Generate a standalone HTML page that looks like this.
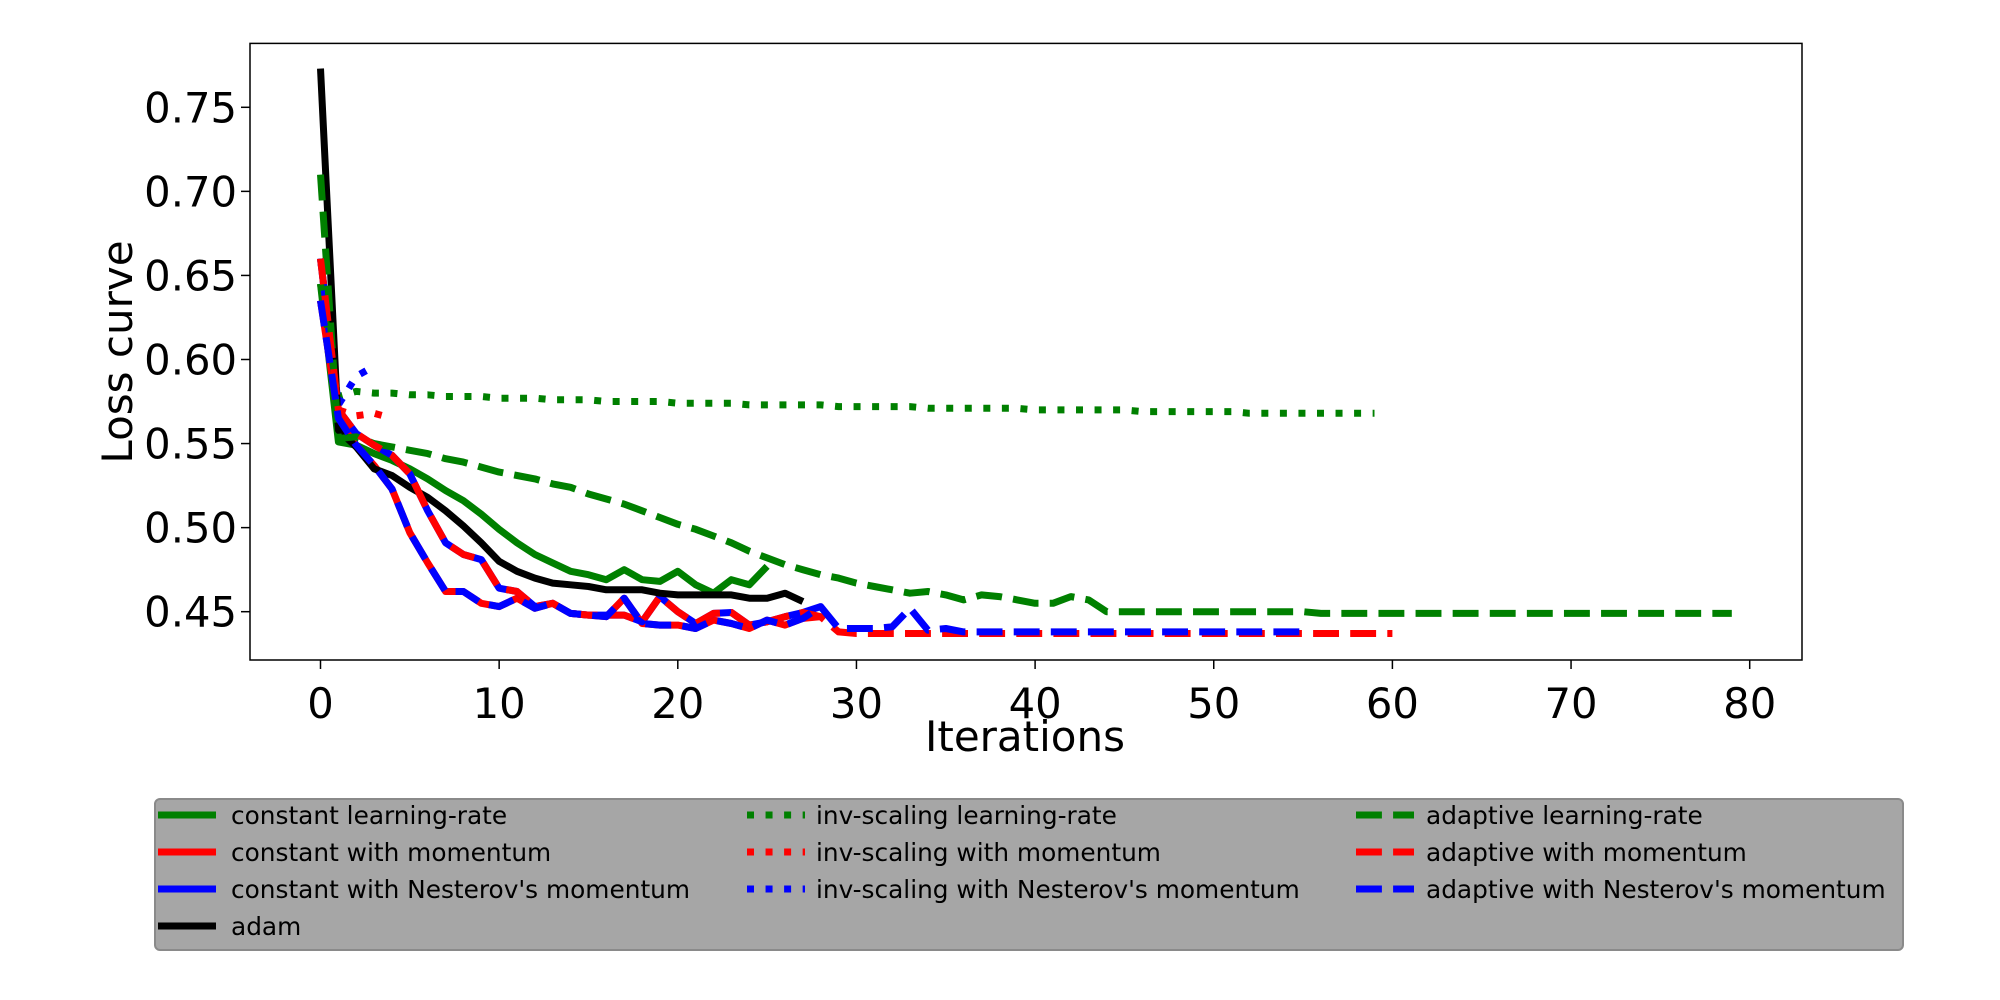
<!DOCTYPE html>
<html><head><meta charset="utf-8">
<style>
html,body{margin:0;padding:0;background:#fff;}
svg{display:block;font-family:"DejaVu Sans","Liberation Sans",sans-serif;}
</style></head>
<body>
<svg id="chart" width="2000" height="1000" viewBox="0 0 2000 1000" xmlns="http://www.w3.org/2000/svg">
<rect x="0" y="0" width="2000" height="1000" fill="#fff"/>
<g id="plot"></g>
<rect x="250" y="43.4" width="1552" height="616.6" fill="none" stroke="#000" stroke-width="1.5"/>
<g id="xticks"></g>
<g id="yticks"></g>
<text x="1025" y="751" font-size="42" text-anchor="middle">Iterations</text>
<text x="0" y="0" font-size="42" text-anchor="middle" transform="translate(132,352) rotate(-90)">Loss curve</text>
<rect x="155" y="799" width="1748" height="151" rx="5" fill="#a6a6a6" stroke="#8a8a8a" stroke-width="2"/>
<g id="legend"></g>
</svg>
<script>
const xTicks = [0,10,20,30,40,50,60,70,80];
const yTicks = [0.45,0.50,0.55,0.60,0.65,0.70,0.75];
const yTickLabels = ["0.45","0.50","0.55","0.60","0.65","0.70","0.75"];

const constantLR = [0.645,0.551,0.549,0.544,0.540,0.535,0.529,0.522,0.516,0.508,0.499,0.491,0.484,0.479,0.474,0.472,0.469,0.475,0.469,0.468,0.474,0.466,0.461,0.469,0.466,0.477];
const constantMom = [0.635,0.565,0.549,0.537,0.523,0.497,0.479,0.462,0.462,0.455,0.453,0.458,0.452,0.455,0.449,0.448,0.447,0.458,0.443,0.442,0.442,0.440,0.445,0.443,0.440,0.445,0.442,0.446,0.447];
const constantNest = [0.660,0.570,0.556,0.549,0.543,0.532,0.510,0.491,0.484,0.481,0.464,0.462,0.453,0.455,0.449,0.448,0.448,0.448,0.444,0.459,0.450,0.443,0.449,0.4495,0.442,0.444,0.447,0.4495,0.453];
const adam = [0.773,0.558,0.548,0.535,0.531,0.524,0.518,0.510,0.501,0.491,0.480,0.474,0.470,0.467,0.466,0.465,0.463,0.463,0.463,0.461,0.460,0.460,0.460,0.460,0.458,0.458,0.461,0.456];
const invLR = [0.645,0.578,0.581,0.580,0.580,0.579,0.579,0.578,0.578,0.578,0.577,0.577,0.577,0.576,0.576,0.576,0.575,0.575,0.575,0.575,0.574,0.574,0.574,0.574,0.573,0.573,0.573,0.573,0.573,0.572,0.572,0.572,0.572,0.572,0.571,0.571,0.571,0.571,0.571,0.571,0.570,0.570,0.570,0.570,0.570,0.570,0.569,0.569,0.569,0.569,0.569,0.569,0.568,0.568,0.568,0.568,0.568,0.568,0.568,0.568];
const invMom = [0.635,0.570,0.5665,0.568,0.565];
const invNest = [0.660,0.573,0.590,0.596];
const adaptLR = [0.710,0.553,0.554,0.550,0.548,0.546,0.544,0.541,0.539,0.536,0.533,0.531,0.529,0.526,0.524,0.520,0.517,0.514,0.510,0.506,0.502,0.499,0.495,0.491,0.486,0.482,0.478,0.475,0.472,0.470,0.467,0.465,0.463,0.461,0.462,0.460,0.457,0.460,0.459,0.457,0.455,0.455,0.459,0.457,0.450,0.450,0.450,0.450,0.450,0.450,0.450,0.450,0.450,0.450,0.450,0.450,0.449,0.449,0.449,0.449,0.449,0.449,0.449,0.449,0.449,0.449,0.449,0.449,0.449,0.449,0.449,0.449,0.449,0.449,0.449,0.449,0.449,0.449,0.449,0.449];
const adaptMom = [0.660,0.570,0.556,0.549,0.543,0.532,0.510,0.491,0.484,0.481,0.464,0.462,0.453,0.455,0.449,0.448,0.448,0.448,0.444,0.459,0.450,0.443,0.449,0.4495,0.442,0.444,0.447,0.4495,0.447,0.438,0.437,0.437,0.437,0.437,0.437,0.437,0.437,0.437,0.437,0.437,0.437,0.437,0.437,0.437,0.437,0.437,0.437,0.437,0.437,0.437,0.437,0.437,0.437,0.437,0.437,0.437,0.437,0.437,0.437,0.437,0.437];
const adaptNest = [0.635,0.565,0.549,0.537,0.523,0.497,0.479,0.462,0.462,0.455,0.453,0.458,0.452,0.455,0.449,0.448,0.447,0.458,0.443,0.442,0.442,0.440,0.445,0.443,0.440,0.445,0.442,0.446,0.453,0.440,0.440,0.440,0.441,0.452,0.439,0.440,0.438,0.438,0.438,0.438,0.438,0.438,0.438,0.438,0.438,0.438,0.438,0.438,0.438,0.438,0.438,0.438,0.438,0.438,0.438,0.438];

const NS = "http://www.w3.org/2000/svg";
function xs(v){ return 320.5 + v * 17.865; }
function ys(v){ return 107.3 + (0.75 - v) * 1681.3; }
const LW = 7;
const styles = {
  solid: null,
  dotted: (1*LW)+" "+(1.65*LW),
  dashed: (3.7*LW)+" "+(1.6*LW)
};
const series = [
  {name:"constant-learning-rate-line", label:"constant learning-rate", data:constantLR, color:"#008000", dash:"solid", col:0,row:0},
  {name:"constant-momentum-line", label:"constant with momentum", data:constantMom, color:"#ff0000", dash:"solid", col:0,row:1},
  {name:"constant-nesterov-line", label:"constant with Nesterov's momentum", data:constantNest, color:"#0000ff", dash:"solid", col:0,row:2},
  {name:"invscaling-learning-rate-line", label:"inv-scaling learning-rate", data:invLR, color:"#008000", dash:"dotted", col:1,row:0},
  {name:"invscaling-momentum-line", label:"inv-scaling with momentum", data:invMom, color:"#ff0000", dash:"dotted", col:1,row:1},
  {name:"invscaling-nesterov-line", label:"inv-scaling with Nesterov's momentum", data:invNest, color:"#0000ff", dash:"dotted", col:1,row:2},
  {name:"adam-line", label:"adam", data:adam, color:"#000000", dash:"solid", col:0,row:3},
  {name:"adaptive-learning-rate-line", label:"adaptive learning-rate", data:adaptLR, color:"#008000", dash:"dashed", col:2,row:0},
  {name:"adaptive-momentum-line", label:"adaptive with momentum", data:adaptMom, color:"#ff0000", dash:"dashed", col:2,row:1},
  {name:"adaptive-nesterov-line", label:"adaptive with Nesterov's momentum", data:adaptNest, color:"#0000ff", dash:"dashed", col:2,row:2}
];
const plot = document.getElementById("plot");
series.forEach(s => {
  const p = document.createElementNS(NS, "polyline");
  p.setAttribute("points", s.data.map((v,i)=>xs(i).toFixed(1)+","+ys(v).toFixed(1)).join(" "));
  p.setAttribute("fill","none");
  p.setAttribute("stroke", s.color);
  p.setAttribute("stroke-width", LW);
  p.setAttribute("stroke-linejoin","round");
  if (styles[s.dash]) p.setAttribute("stroke-dasharray", styles[s.dash]);
  
  
  plot.appendChild(p);
});
const xg = document.getElementById("xticks");
xTicks.forEach(t => {
  const l = document.createElementNS(NS,"line");
  l.setAttribute("x1",xs(t)); l.setAttribute("x2",xs(t));
  l.setAttribute("y1",660); l.setAttribute("y2",669);
  l.setAttribute("stroke","#000"); l.setAttribute("stroke-width","1.5");
  
  
  xg.appendChild(l);
  const tx = document.createElementNS(NS,"text");
  tx.setAttribute("x",xs(t)); tx.setAttribute("y",718);
  tx.setAttribute("font-size","41.7"); tx.setAttribute("text-anchor","middle");
  tx.textContent = String(t);
  
  
  xg.appendChild(tx);
});
const yg = document.getElementById("yticks");
yTicks.forEach((t,i) => {
  const l = document.createElementNS(NS,"line");
  l.setAttribute("x1",241); l.setAttribute("x2",250);
  l.setAttribute("y1",ys(t)); l.setAttribute("y2",ys(t));
  l.setAttribute("stroke","#000"); l.setAttribute("stroke-width","1.5");
  
  
  yg.appendChild(l);
  const tx = document.createElementNS(NS,"text");
  tx.setAttribute("x",237); tx.setAttribute("y",ys(t)+15);
  tx.setAttribute("font-size","41.7"); tx.setAttribute("text-anchor","end");
  tx.textContent = yTickLabels[i];
  
  
  yg.appendChild(tx);
});
const lg = document.getElementById("legend");
const colX = [158, 747, 1356];
const textX = [231, 816, 1426];
const rowY = [815, 852, 889, 926];
series.forEach(s => {
  const y = rowY[s.row], x = colX[s.col];
  const l = document.createElementNS(NS,"line");
  l.setAttribute("x1",x); l.setAttribute("x2",x+58);
  l.setAttribute("y1",y); l.setAttribute("y2",y);
  l.setAttribute("stroke",s.color); l.setAttribute("stroke-width",LW);
  if (styles[s.dash]) l.setAttribute("stroke-dasharray", styles[s.dash]);
  
  
  lg.appendChild(l);
  const tx = document.createElementNS(NS,"text");
  tx.setAttribute("x",textX[s.col]); tx.setAttribute("y",y+9);
  tx.setAttribute("font-size","24.8");
  tx.textContent = s.label;
  
  
  lg.appendChild(tx);
});
</script>
</body></html>
